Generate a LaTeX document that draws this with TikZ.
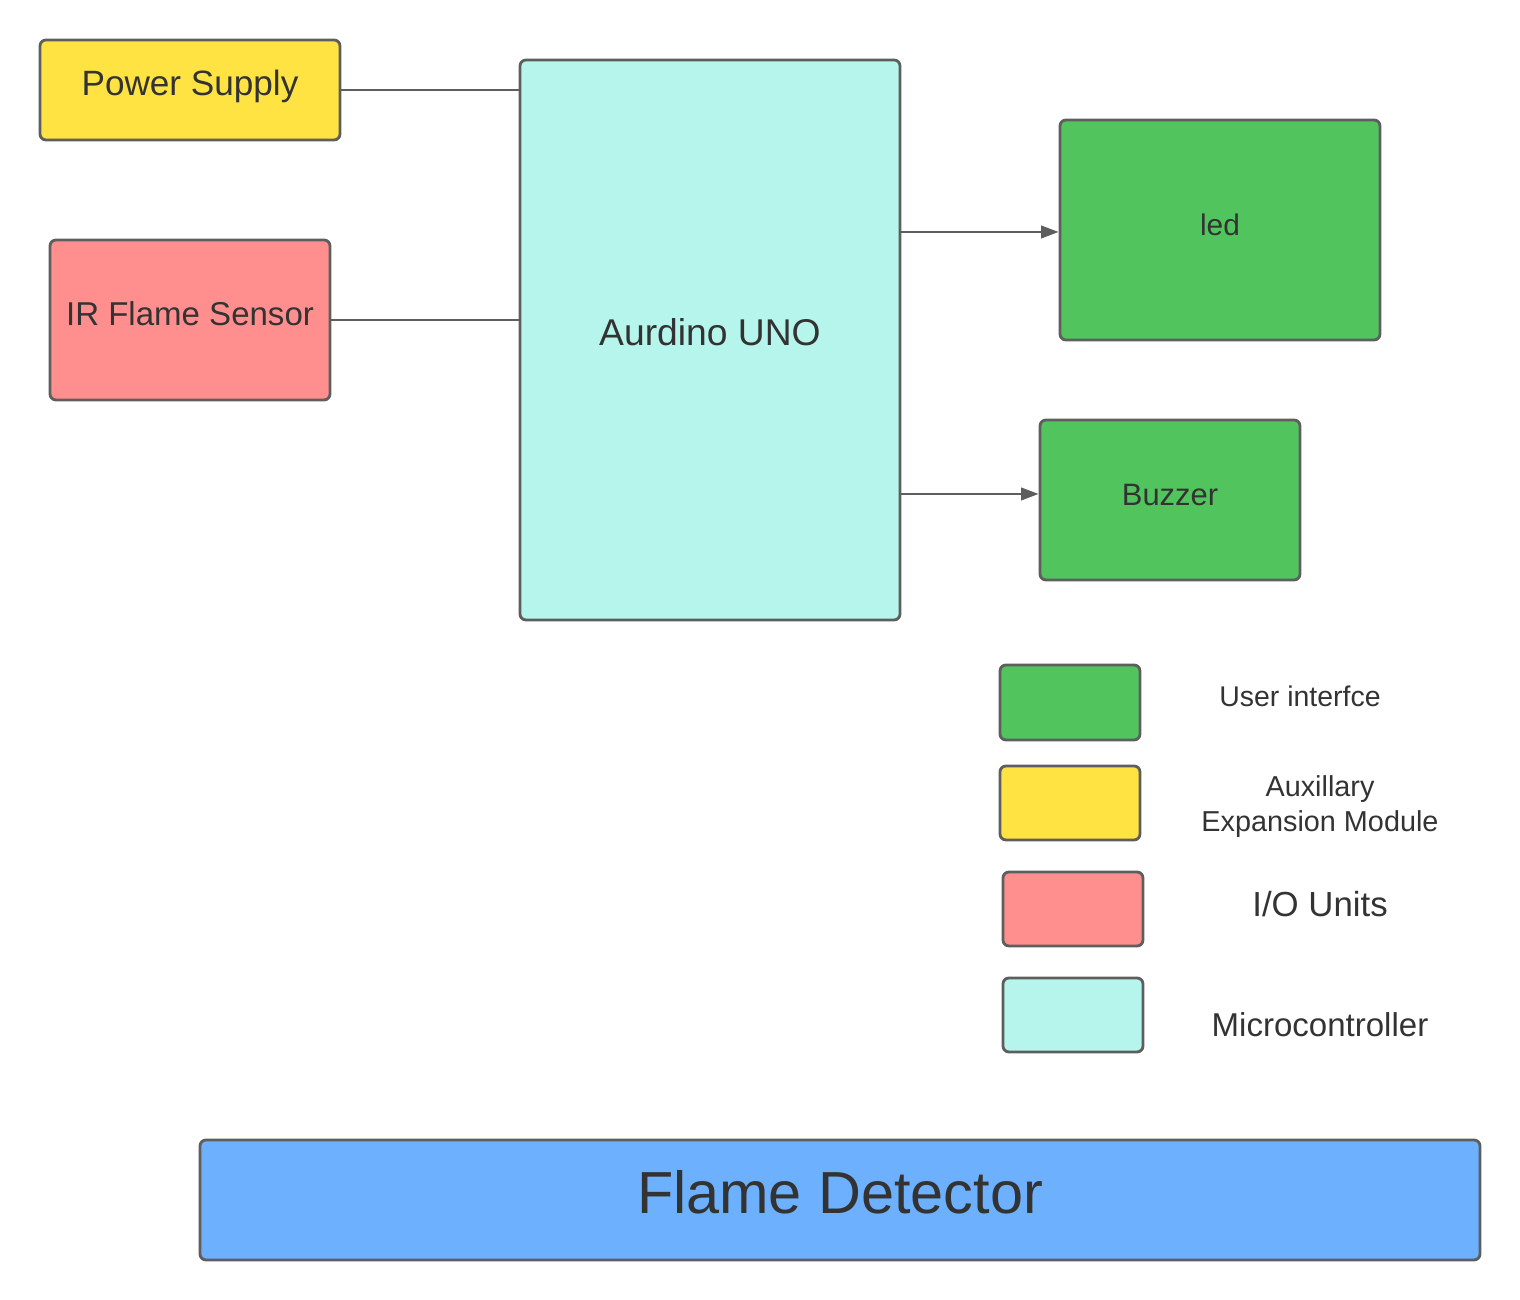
\documentclass[tikz,border=0pt]{standalone}
\usepackage{fontspec}
\setmainfont{Liberation Sans}
\usetikzlibrary{arrows.meta}
\definecolor{ioc}{HTML}{FF8F8F}
\definecolor{auxc}{HTML}{FFE342}
\definecolor{mcuc}{HTML}{B5F5EB}
\definecolor{uic}{HTML}{52C45E}
\definecolor{titlec}{HTML}{6DB0FD}
\definecolor{edgec}{HTML}{5E5E5E}
\definecolor{txtc}{HTML}{333333}
\tikzset{>={Triangle[length=5pt,width=3.6pt]}}
\tikzset{blk/.style={draw=edgec,line width=0.8pt,rounded corners=1.7pt,text=txtc,inner sep=0pt,align=center,text height=0.72em,text depth=0.4em}}
\tikzset{lnk/.style={draw=edgec,line width=0.6pt}}

\begin{document}
\begin{tikzpicture}
    \useasboundingbox (0,0) rectangle (15.2,13);
    % blocks
    \node[blk,fill=auxc,minimum width=3cm,minimum height=1cm,font=\fontsize{10}{12}\selectfont] (ps) at (1.9,12.1) {Power Supply};
    \node[blk,fill=ioc,minimum width=2.8cm,minimum height=1.6cm,font=\fontsize{9.4}{11}\selectfont] (ir) at (1.9,9.8) {IR Flame Sensor};
    \node[blk,fill=mcuc,minimum width=3.8cm,minimum height=5.6cm,font=\fontsize{10.6}{12}\selectfont] (uno) at (7.1,9.6) {Aurdino UNO};
    \node[blk,fill=uic,minimum width=3.2cm,minimum height=2.2cm,font=\fontsize{8.5}{10}\selectfont] (led) at (12.2,10.7) {led};
    \node[blk,fill=uic,minimum width=2.6cm,minimum height=1.6cm,font=\fontsize{8.8}{10}\selectfont] (buz) at (11.7,8.0) {Buzzer};
    \draw[lnk] (ps.east) -- (ps.east -| uno.west);
    \draw[lnk] (ir.east) -- (ir.east -| uno.west);
    \draw[lnk,->] (uno.east |- 0,10.68) -- (led.west |- 0,10.68);
    \draw[lnk,->] (uno.east |- 0,8.06) -- (buz.west |- 0,8.06);
    % legend
    \node[blk,fill=uic,minimum width=1.4cm,minimum height=0.75cm] (kui) at (10.7,5.975) {};
    \node[blk,fill=auxc,minimum width=1.4cm,minimum height=0.74cm] (kaux) at (10.7,4.97) {};
    \node[blk,fill=ioc,minimum width=1.4cm,minimum height=0.74cm] (kio) at (10.73,3.91) {};
    \node[blk,fill=mcuc,minimum width=1.4cm,minimum height=0.74cm] (kmcu) at (10.73,2.85) {};
    \node[text=txtc,font=\fontsize{8.1}{10}\selectfont] (lui) at (13.0,6.04) {User interfce};
    \node[text=txtc,align=center,font=\fontsize{8.2}{10}\selectfont] (laux) at (13.2,4.93) {Auxillary\\Expansion Module};
    \node[text=txtc,font=\fontsize{9.9}{12}\selectfont] (lio) at (13.2,3.96) {I/O Units};
    \node[text=txtc,font=\fontsize{9.4}{11}\selectfont] (lmcu) at (13.2,2.75) {Microcontroller};
    % title bar
    \node[blk,fill=titlec,minimum width=12.8cm,minimum height=1.2cm] (ttl) at (8.4,1.0) {};
    \node[text=txtc,font=\fontsize{16.9}{20}\selectfont] (ttltxt) at (8.4,1.08) {Flame Detector};
\end{tikzpicture}
\end{document}
